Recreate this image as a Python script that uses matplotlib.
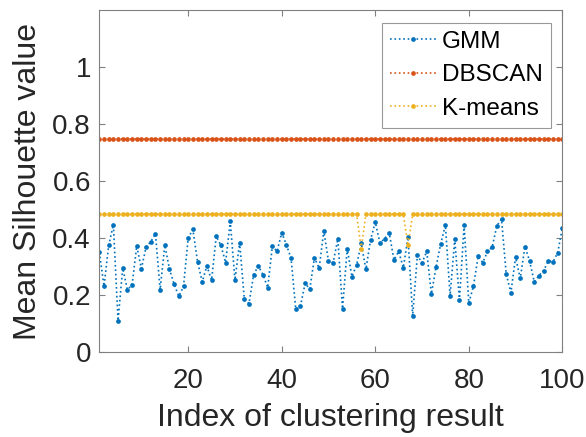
import numpy as np
import matplotlib
matplotlib.use('Agg')
import matplotlib.pyplot as plt
from matplotlib.ticker import FuncFormatter

plt.rcParams['font.family'] = ['Liberation Sans', 'DejaVu Sans']

# data
idx = np.arange(1, 101)
gmm = [0.351, 0.232, 0.375, 0.448, 0.111, 0.295, 0.220, 0.236, 0.373, 0.294,
       0.370, 0.388, 0.416, 0.220, 0.376, 0.292, 0.238, 0.197, 0.231, 0.401,
       0.431, 0.318, 0.247, 0.303, 0.253, 0.407, 0.375, 0.315, 0.459, 0.253,
       0.385, 0.187, 0.171, 0.273, 0.303, 0.272, 0.227, 0.373, 0.354, 0.420,
       0.377, 0.330, 0.152, 0.162, 0.242, 0.222, 0.332, 0.295, 0.426, 0.320,
       0.315, 0.398, 0.153, 0.364, 0.266, 0.305, 0.382, 0.291, 0.395, 0.457,
       0.383, 0.399, 0.418, 0.324, 0.354, 0.297, 0.404, 0.128, 0.340, 0.314,
       0.354, 0.205, 0.299, 0.381, 0.446, 0.199, 0.397, 0.182, 0.446, 0.173,
       0.232, 0.337, 0.315, 0.354, 0.369, 0.444, 0.467, 0.275, 0.209, 0.334,
       0.259, 0.371, 0.321, 0.247, 0.269, 0.287, 0.320, 0.318, 0.348, 0.436]
dbscan = [0.747] * 100
kmeans = [0.485] * 100
kmeans[56] = 0.363   # index 57
kmeans[66] = 0.375   # index 67

series = [('GMM', gmm, '#0072BD'),
          ('DBSCAN', dbscan, '#D95319'),
          ('K-means', kmeans, '#EDB120')]

fig = plt.figure(figsize=(5.86, 4.37), dpi=100)
ax = fig.add_axes([0.1695, 0.1938, 0.7901, 0.7826])

for name, vals, col in series:
    ax.plot(idx, vals, linestyle=':', linewidth=1.2, color=col,
            marker='o', markersize=3.4, markeredgewidth=0, label=name)

ax.set_xlim(1, 100)
ax.set_ylim(0, 1.2)
ax.set_xticks([20, 40, 60, 80, 100])
ax.set_yticks([0, 0.2, 0.4, 0.6, 0.8, 1.0])
ax.yaxis.set_major_formatter(FuncFormatter(lambda v, p: f'{v:g}'))

ax.tick_params(direction='in', top=True, right=True, length=4, width=0.8,
               labelsize=20, colors='#808080', labelcolor='#262626')
ax.tick_params(axis='y', pad=6)
ax.tick_params(axis='x', pad=11)
for s in ax.spines.values():
    s.set_color('#808080')
    s.set_linewidth(0.8)

ax.set_xlabel('Index of clustering result', fontsize=23, color='#262626', labelpad=7)
ax.set_ylabel('Mean Silhouette value', fontsize=23, color='#262626', labelpad=7)

leg = ax.legend(loc='upper right', fontsize=17.5, frameon=True, fancybox=False,
                edgecolor='#808080', handlelength=1.9, handletextpad=0.25,
                borderpad=0.33, labelspacing=0.47, borderaxespad=0,
                bbox_to_anchor=(0.9756, 0.963))
leg.get_frame().set_linewidth(0.8)

fig.savefig('out.png', dpi=100)
